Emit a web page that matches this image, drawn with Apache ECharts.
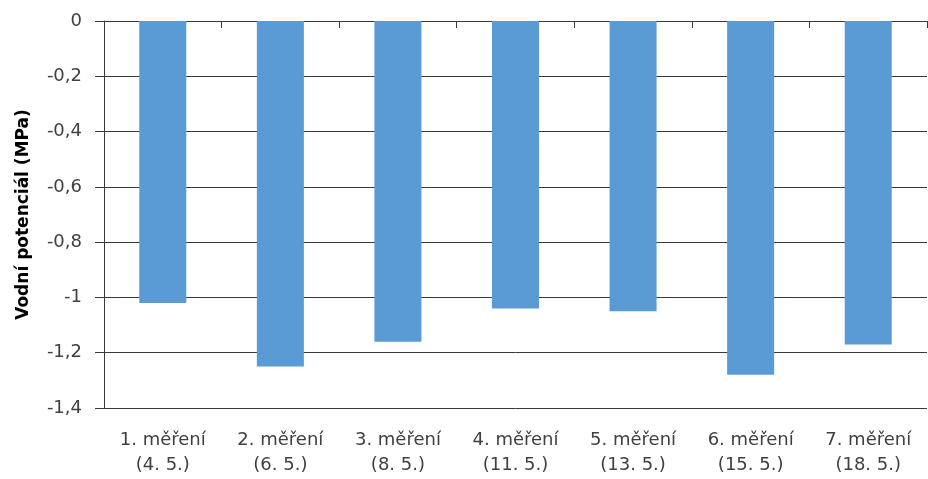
<!DOCTYPE html>
<html>
<head>
<meta charset="utf-8">
<script src="https://cdn.jsdelivr.net/npm/echarts@6/dist/echarts.min.js"></script>
<style>
  html, body { margin: 0; padding: 0; background: #fff; }
  #chart { width: 928px; height: 479px; }
</style>
</head>
<body>
<div id="chart"></div>
<script>
// Measurement rounds (category labels, two lines each)
const categories = [
  '1. měření\n(4. 5.)',
  '2. měření\n(6. 5.)',
  '3. měření\n(8. 5.)',
  '4. měření\n(11. 5.)',
  '5. měření\n(13. 5.)',
  '6. měření\n(15. 5.)',
  '7. měření\n(18. 5.)'
];
// Water potential per measurement, MPa
const waterPotential = [-1.02, -1.25, -1.16, -1.04, -1.05, -1.28, -1.17];
// Value axis range
const yMin = -1.4;
const yMax = 0;
const yStep = 0.2;
const yAxisTitle = 'Vodní potenciál (MPa)';

const font = '"DejaVu Sans", "Open Sans", sans-serif';
const textColor = '#404040';
const lineColor = '#3a3a3a';

const chart = echarts.init(document.getElementById('chart'), null, { renderer: 'canvas' });
chart.setOption({
  animation: false,
  backgroundColor: '#ffffff',
  grid: { left: 104, right: 1, top: 21, bottom: 71, containLabel: false },
  xAxis: [
    {
      // axis crossing at zero (top edge), with inward ticks between categories
      type: 'category',
      data: categories,
      position: 'top',
      axisLine: { show: true, lineStyle: { color: lineColor, width: 1 } },
      axisTick: { show: true, inside: true, length: 7, lineStyle: { color: lineColor } },
      axisLabel: { show: false },
      splitLine: { show: false }
    },
    {
      // category labels along the bottom
      type: 'category',
      data: categories,
      position: 'bottom',
      axisLine: { show: false },
      axisTick: { show: false },
      axisLabel: {
        show: true,
        interval: 0,
        margin: 20,
        color: textColor,
        fontFamily: font,
        fontSize: 18,
        lineHeight: 25,
        align: 'center'
      },
      splitLine: { show: false }
    }
  ],
  yAxis: {
    type: 'value',
    min: yMin,
    max: yMax,
    interval: yStep,
    name: yAxisTitle,
    nameLocation: 'middle',
    nameGap: 72,
    nameRotate: 90,
    nameTextStyle: {
      color: '#000000',
      fontFamily: font,
      fontSize: 17,
      fontWeight: 'bold'
    },
    axisLine: { show: true, lineStyle: { color: lineColor, width: 1 } },
    axisTick: { show: true, inside: false, length: 9, lineStyle: { color: lineColor } },
    axisLabel: {
      color: textColor,
      fontFamily: font,
      fontSize: 18,
      margin: 22,
      formatter: function (v) {
        const r = Math.round(v * 10) / 10;
        return String(r).replace('.', ',');
      }
    },
    splitLine: { show: true, lineStyle: { color: lineColor, width: 1 } }
  },
  series: [{
    type: 'bar',
    xAxisIndex: 0,
    data: waterPotential,
    barCategoryGap: '60%',
    itemStyle: { color: '#5B9BD5' }
  }]
});
</script>
</body>
</html>
